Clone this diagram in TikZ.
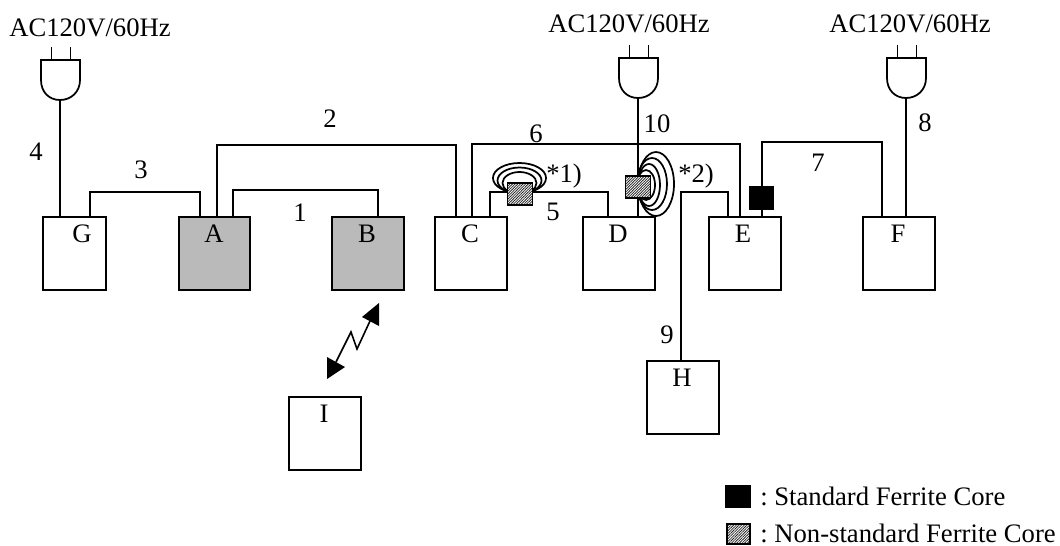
\documentclass[tikz,border=0pt]{standalone}
\usepackage{fontspec}
\setmainfont{Liberation Serif}
\usetikzlibrary{patterns.meta}
\tikzset{
  x=0.75pt,y=-0.75pt,
  box/.style={draw,line width=1.3pt,anchor=north west,inner sep=0pt,minimum width=#1*0.75pt,minimum height=54.75pt,fill=white},
  grey/.style={fill=black!27},
  lbl/.style={inner sep=0pt,font=\fontsize{20}{24}\selectfont},
  wire/.style={line width=1.3pt},
  nscore/.style={draw,line width=1.4pt,inner sep=0pt,minimum width=18.75pt,minimum height=16.5pt,preaction={fill=white},pattern={Lines[angle=45,distance=1.4pt,line width=.6pt]},pattern color=black!85},
  blackcore/.style={draw,fill=black,inner sep=0pt,minimum width=18pt,minimum height=17pt},
  coil/.style={line width=1.3pt},
  plugdraw/.style={line width=1.3pt}
}
\newcommand{\plugat}[2]{%
  \draw[plugdraw] (#1-8.5,#2-20) -- (#1-8.5,#2-7) (#1+10.5,#2-20) -- (#1+10.5,#2-7);
  \draw[plugdraw] (#1-19,#2-7) -- (#1+20,#2-7) -- (#1+20,#2+13) .. controls (#1+20,#2+25) and (#1+11,#2+33) .. (#1,#2+33) .. controls (#1-11,#2+33) and (#1-19,#2+25) .. (#1-19,#2+13) -- cycle;
}
\begin{document}
\begin{tikzpicture}
\useasboundingbox (0,0) rectangle (1060,546);
% boxes
\node[box=63] (G) at (42,216) {};
\node[box=71,grey] (A) at (178,216) {};
\node[box=72,grey] (B) at (331,216) {};
\node[box=72] (C) at (434,216) {};
\node[box=72] (D) at (582,216) {};
\node[box=72] (E) at (708,216) {};
\node[box=72] (F) at (862,216) {};
\node[box=72] (H) at (646,360) {};
\node[box=72] (I) at (288,396) {};
\node[lbl] at (82,234) {G};
\node[lbl] at (214,234) {A};
\node[lbl] at (367,234) {B};
\node[lbl] at (470,234) {C};
\node[lbl] at (618,234) {D};
\node[lbl] at (743,234) {E};
\node[lbl] at (898,234) {F};
\node[lbl] at (682,378) {H};
\node[lbl] at (324,414) {I};
\plugat{60}{67}
\plugat{638}{65}
\plugat{906}{65}
\coordinate (P1b) at (60,100);
\coordinate (P2b) at (638,98);
\coordinate (P3b) at (906,98);
% connectors
\draw[wire] (P1b) -- (P1b |- G.north);
\draw[wire] (P2b) -- (P2b |- D.north);
\draw[wire] (P3b) -- (P3b |- F.north);
\draw[wire] (90,216) -- (90,192) -- (200,192) -- (200,216);
\draw[wire] (233,216) -- (233,190) -- (378,190) -- (378,216);
\draw[wire] (217,216) -- (217,145) -- (456,145) -- (456,216);
\draw[wire] (472,216) -- (472,144) -- (740,144) -- (740,216);
\draw[wire] (490,216) -- (490,192) -- (608,192) -- (608,216);
\draw[wire] (681,360) -- (681,192) -- (728,192) -- (728,216);
\draw[wire] (762,216) -- (762,142) -- (882,142) -- (882,216);
% coil 1
\draw[coil] (519.5,178) ellipse [x radius=19.9pt,y radius=11.25pt];
\draw[coil] (519.5,180.5) ellipse [x radius=16.5pt,y radius=9.75pt];
\draw[coil] (519.5,183) ellipse [x radius=12.75pt,y radius=8.25pt];
\node[nscore] (N1) at (520,194) {};
% coil 2
\draw[coil] (656,184) ellipse [x radius=13.5pt,y radius=24pt];
\draw[coil] (652,184) ellipse [x radius=11.25pt,y radius=19.5pt];
\draw[coil] (649,185) ellipse [x radius=8.25pt,y radius=15.75pt];
\draw[coil] (646,185) ellipse [x radius=6.75pt,y radius=11.25pt];
\node[nscore] (N2) at (638,187) {};
\node[blackcore] (K) at (761.5,197.5) {};
% wireless
\fill (327,357) -- (345,367) -- (327,379) -- cycle;
\fill (379,303) -- (362,317) -- (379,326) -- cycle;
\draw[line width=1.2pt] (336,362) -- (351,332) -- (357,349) -- (370,321);
% labels
\node[lbl,anchor=west] at (9,28) {AC120V/60Hz};
\node[lbl,anchor=west] at (548,24) {AC120V/60Hz};
\node[lbl,anchor=west] at (829,24) {AC120V/60Hz};
\node[lbl] at (36,152) {4};
\node[lbl] at (141,170) {3};
\node[lbl] at (330,119) {2};
\node[lbl] at (300,213) {1};
\node[lbl] at (536,134) {6};
\node[lbl] at (553,212) {5};
\node[lbl] at (657,124) {10};
\node[lbl] at (818,163) {7};
\node[lbl] at (925,123) {8};
\node[lbl] at (667,335) {9};
\node[lbl,anchor=west] at (546,176) {*1)};
\node[lbl,anchor=west] at (678,176) {*2)};
\node[blackcore,minimum width=18.75pt,minimum height=16.5pt] (L1) at (737.5,496.5) {};
\node[nscore,minimum width=17.5pt,minimum height=15.5pt] (L2) at (738.5,534) {};
\node[lbl,anchor=west] (T1) at (760,496) {:\hspace{5pt}Standard Ferrite Core};
\node[lbl,anchor=west] (T2) at (760,533) {:\hspace{5pt}Non-standard Ferrite Core};
\end{tikzpicture}
\end{document}
